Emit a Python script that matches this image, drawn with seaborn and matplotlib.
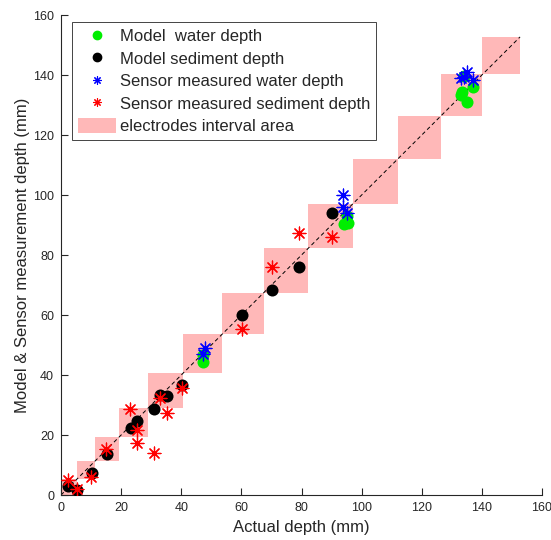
import matplotlib
matplotlib.use("Agg")
import matplotlib.pyplot as plt
import seaborn as sns
from matplotlib.patches import Rectangle, Patch
from matplotlib.lines import Line2D

# electrode interval boundaries along the diagonal (mm)
interval_edges = [0, 5.2, 11.3, 19.3, 29.0, 40.6, 53.6, 67.5, 82.2, 97.0, 112.0, 126.5, 140.2, 152.7]

# model water depth
mw_x = [47.2, 47.2, 94.3, 95.3, 95.0, 133.0, 133.3, 135.0, 137.0, 134.0]
mw_y = [46.8, 44.5, 90.5, 90.8, 93.0, 133.3, 134.2, 131.0, 136.1, 139.8]

# model sediment depth
ms_x = [2.2, 5.2, 10.2, 15.2, 23.2, 25.2, 31.1, 33.0, 35.3, 40.2, 60.1, 70.1, 79.2, 90.0]
ms_y = [3.0, 1.8, 7.4, 13.8, 22.3, 24.6, 28.6, 33.5, 33.1, 36.6, 60.0, 68.3, 75.9, 93.9]

# sensor measured water depth
sw_x = [47.9, 47.1, 93.9, 93.9, 95.1, 133.1, 134.0, 135.0, 137.1]
sw_y = [48.9, 46.9, 100.0, 96.1, 93.9, 138.9, 139.5, 141.1, 138.4]

# sensor measured sediment depth
ss_x = [2.2, 5.2, 10.1, 15.1, 23.1, 25.2, 25.2, 31.1, 32.9, 35.1, 40.1, 60.1, 70.1, 79.1, 90.0]
ss_y = [5.0, 1.9, 6.0, 15.2, 28.6, 21.7, 17.5, 13.9, 32.2, 27.3, 35.6, 55.2, 75.9, 87.2, 85.9]

sns.set_style("white")
plt.rcParams["font.family"] = ["Liberation Sans", "DejaVu Sans"]
axis_color = "#262626"

fig = plt.figure(figsize=(5.51, 5.40), dpi=100)
ax = fig.add_axes([0.1107, 0.0833, 0.8730, 0.8889])

pink = (1.0, 0.0, 0.0, 0.28)
for lo, hi in zip(interval_edges[:-1], interval_edges[1:]):
    ax.add_patch(Rectangle((lo, lo), hi - lo, hi - lo, facecolor=pink, edgecolor="none", zorder=1))

ax.plot([0, interval_edges[-1]], [0, interval_edges[-1]], ls=(0, (4, 3)), color="black", lw=0.7, zorder=2)

star = (8, 2, 0)
sns.scatterplot(x=mw_x, y=mw_y, ax=ax, color="#00ee00", edgecolor="#00ee00", s=75, linewidth=0, zorder=3)
sns.scatterplot(x=ms_x, y=ms_y, ax=ax, color="black", edgecolor="black", s=75, linewidth=0, zorder=4)
sns.scatterplot(x=sw_x, y=sw_y, ax=ax, color="blue", marker=star, s=85, linewidth=0.9, zorder=5)
sns.scatterplot(x=ss_x, y=ss_y, ax=ax, color="red", marker=star, s=85, linewidth=0.9, zorder=6)

ax.set_xlim(0, 160)
ax.set_ylim(0, 160)
ax.set_xticks(range(0, 161, 20))
ax.set_yticks(range(0, 161, 20))
ax.tick_params(bottom=True, left=True, direction="in", length=5, width=0.8, colors=axis_color,
               labelsize=9, pad=5)
for side in ["top", "right"]:
    ax.spines[side].set_visible(False)
for side in ["left", "bottom"]:
    ax.spines[side].set_color(axis_color)
    ax.spines[side].set_linewidth(0.8)

ax.set_xlabel("Actual depth (mm)", fontsize=12, color=axis_color, labelpad=4)
ax.set_ylabel("Model & Sensor measurement depth (mm)", fontsize=12, color=axis_color, labelpad=2)

handles = [
    Line2D([], [], ls="none", marker="o", color="#00ee00", markersize=6),
    Line2D([], [], ls="none", marker="o", color="black", markersize=6),
    Line2D([], [], ls="none", marker=star, color="blue", markersize=6, mew=0.8),
    Line2D([], [], ls="none", marker=star, color="red", markersize=6, mew=0.8),
    Patch(facecolor=pink, edgecolor="none"),
]
labels = ["Model  water depth", "Model sediment depth", "Sensor measured water depth",
          "Sensor measured sediment depth", "electrodes interval area"]
leg = ax.legend(handles, labels, loc="upper left", bbox_to_anchor=(0.023, 0.985), fontsize=12,
                frameon=True, fancybox=False, edgecolor=axis_color, framealpha=1,
                handlelength=2.3, handleheight=1.0, handletextpad=0.2, labelspacing=0.38,
                borderpad=0.35, borderaxespad=0)
leg.get_frame().set_linewidth(0.6)

fig.savefig("out.png", dpi=100)
